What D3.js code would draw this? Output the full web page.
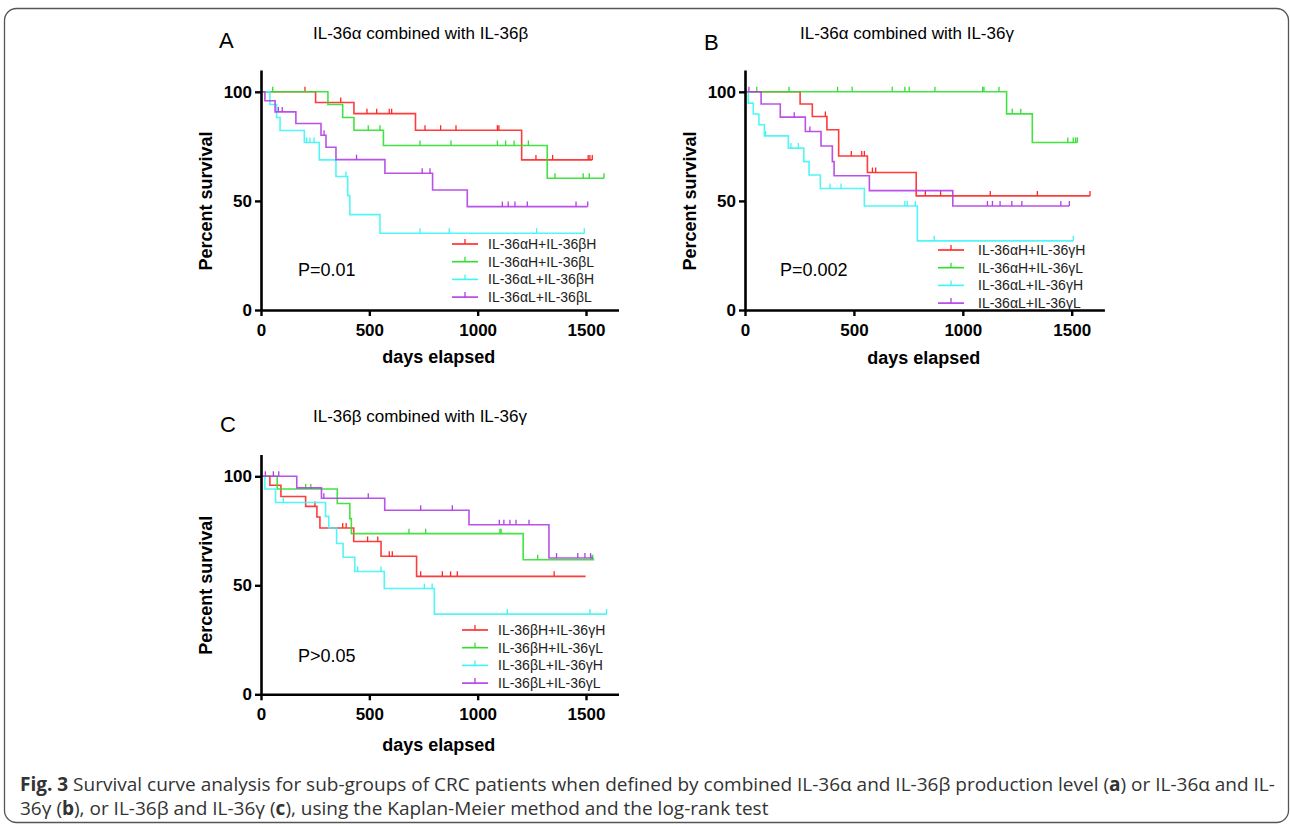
<!DOCTYPE html>
<html>
<head>
<meta charset="utf-8">
<script src="https://cdn.jsdelivr.net/npm/d3@7"></script>
<style>
  body { margin: 0; background: #fff; }
  svg text { font-family: "Liberation Sans", Arial, sans-serif; }
</style>
</head>
<body>
<svg id="chart" width="1290" height="827"></svg>
<script>
// ---- data: [day, percent] at each drop, censored days, last day ----
var colors = ["#ff2626", "#2fe02f", "#3ff5f5", "#b23ee6"];

var aLabels = ["IL-36\u03b1H+IL-36\u03b2H", "IL-36\u03b1H+IL-36\u03b2L", "IL-36\u03b1L+IL-36\u03b2H", "IL-36\u03b1L+IL-36\u03b2L"];
var aHHsteps = [[252, 95.1], [429, 90.0], [713, 82.4], [1203, 68.8]];
var aHHcens = [203, 368, 489, 534, 592, 603, 757, 829, 900, 1091, 1098, 1269, 1346, 1510, 1518, 1529];
var aHLsteps = [[309, 94.2], [377, 88.2], [429, 82.4], [565, 75.4], [1321, 60.4]];
var aHLcens = [54, 495, 549, 734, 877, 1091, 1129, 1168, 1234, 1357, 1487, 1515, 1583];
var aLHsteps = [[41, 94.2], [72, 88.2], [88, 82.3], [200, 76.8], [269, 68.8], [346, 61.2], [400, 52.4], [410, 43.7], [549, 35.2]];
var aLHcens = [211, 226, 245, 392, 734, 869, 1272, 1492];
var aLLsteps = [[18, 95.9], [65, 90.8], [161, 85.5], [277, 80.1], [300, 74.6], [346, 68.9], [572, 62.7], [792, 55.0], [952, 47.4]];
var aLLcens = [80, 98, 291, 441, 744, 780, 1114, 1141, 1172, 1229, 1454, 1508];
var aEnds = [1529, 1583, 1492, 1508];

var bLabels = ["IL-36\u03b1H+IL-36\u03b3H", "IL-36\u03b1H+IL-36\u03b3L", "IL-36\u03b1L+IL-36\u03b3H", "IL-36\u03b1L+IL-36\u03b3L"];
var bHHsteps = [[253, 94.4], [309, 88.7], [376, 82.6], [430, 70.6], [562, 63.0], [786, 52.3]];
var bHHcens = [369, 488, 536, 548, 585, 600, 828, 898, 1126, 1342, 1584];
var bHLsteps = [[1201, 89.9], [1319, 76.8]];
var bHLcens = [54, 202, 425, 492, 676, 734, 754, 872, 1091, 1097, 1166, 1227, 1266, 1482, 1507, 1518, 1526];
var bLHsteps = [[15, 94.8], [38, 89.8], [64, 84.9], [89, 79.8], [199, 74.2], [270, 68.0], [294, 61.9], [346, 55.7], [548, 47.7], [791, 31.7]];
var bLHcens = [94, 211, 245, 390, 441, 734, 745, 782, 869, 1507];
var bLLsteps = [[74, 94.4], [162, 88.4], [277, 81.8], [349, 75.2], [401, 68.0], [409, 61.5], [571, 54.7], [954, 47.7]];
var bLLcens = [18, 226, 298, 1113, 1136, 1171, 1225, 1271, 1450, 1489];
var bEnds = [1584, 1526, 1507, 1489];

var cLabels = ["IL-36\u03b2H+IL-36\u03b3H", "IL-36\u03b2H+IL-36\u03b3L", "IL-36\u03b2L+IL-36\u03b3H", "IL-36\u03b2L+IL-36\u03b3L"];
var cHHsteps = [[41, 95.9], [92, 90.7], [206, 86.2], [258, 81.3], [272, 76.3], [428, 70.1], [554, 63.3], [718, 54.1]];
var cHHcens = [249, 377, 393, 492, 539, 592, 606, 737, 837, 875, 906, 1353];
var cHLsteps = [[75, 94.2], [352, 87.5], [410, 80.6], [417, 73.7], [1210, 61.7]];
var cHLcens = [206, 230, 683, 760, 1103, 1108, 1277, 1523, 1531];
var cLHsteps = [[18, 94.2], [67, 88.0], [298, 81.6], [313, 76.3], [349, 69.2], [379, 62.9], [433, 56.3], [569, 48.5], [800, 36.8]];
var cLHcens = [103, 446, 554, 754, 790, 1137, 1518, 1595];
var cLLsteps = [[165, 94.7], [279, 89.9], [571, 84.4], [960, 77.8], [1329, 62.5]];
var cLLcens = [20, 57, 82, 290, 495, 737, 883, 1100, 1121, 1149, 1177, 1237, 1364, 1462, 1495, 1521];
var cEnds = [1498, 1538, 1595, 1534];

var xTicks = [0, 500, 1000, 1500];
var yTicks = [0, 50, 100];

var svg = d3.select("#chart");

// outer frame
svg.append("rect")
  .attr("x", 4.5).attr("y", 8.5)
  .attr("width", 1284).attr("height", 814)
  .attr("rx", 12).attr("ry", 12)
  .attr("fill", "none").attr("stroke", "#555").attr("stroke-width", 1.3);

var panels = [
  { letter: "A", title: "IL-36\u03b1 combined with IL-36\u03b2", labels: aLabels, p: "P=0.01",
    steps: [aHHsteps, aHLsteps, aLHsteps, aLLsteps], cens: [aHHcens, aHLcens, aLHcens, aLLcens], ends: aEnds,
    x0: 261, x1: 618.5, y0: 310, y1: 70, lx: 452, lty: 244, tx: 488,
    px: 298, py: 276, letX: 219, letY: 48, titleX: 313, titleY: 39, ylabX: 212, xlabY: 363 },
  { letter: "B", title: "IL-36\u03b1 combined with IL-36\u03b3", labels: bLabels, p: "P=0.002",
    steps: [bHHsteps, bHLsteps, bLHsteps, bLLsteps], cens: [bHHcens, bHLcens, bLHcens, bLLcens], ends: bEnds,
    x0: 745, x1: 1104.4, y0: 310, y1: 70, lx: 938, lty: 250, tx: 978,
    px: 780, py: 276, letX: 704, letY: 50, titleX: 800, titleY: 39, ylabX: 696, xlabY: 364 },
  { letter: "C", title: "IL-36\u03b2 combined with IL-36\u03b3", labels: cLabels, p: "P>0.05",
    steps: [cHHsteps, cHLsteps, cLHsteps, cLLsteps], cens: [cHHcens, cHLcens, cLHcens, cLLcens], ends: cEnds,
    x0: 261, x1: 618.5, y0: 694.3, y1: 454.5, lx: 462, lty: 630, tx: 498,
    px: 298, py: 662, letX: 220, letY: 432, titleX: 313, titleY: 422, ylabX: 212, xlabY: 751 }
];

panels.forEach(function(pn) {
  var x = d3.scaleLinear().domain([0, 1650]).range([pn.x0, pn.x1]);
  var y = d3.scaleLinear().domain([0, 110]).range([pn.y0, pn.y1]);
  var g = svg.append("g");

  // survival curves
  var line = d3.line().x(function(d) { return x(d[0]); }).y(function(d) { return y(d[1]); })
    .curve(d3.curveStepAfter);
  pn.steps.forEach(function(st, i) {
    var pts = [[0, 100]].concat(st);
    pts.push([pn.ends[i], st[st.length - 1][1]]);
    g.append("path").attr("d", line(pts))
      .attr("fill", "none").attr("stroke", colors[i]).attr("stroke-width", 1.6).attr("opacity", 0.9);
    // censor ticks
    var survAt = function(t) {
      var v = 100;
      st.forEach(function(s) { if (s[0] <= t) v = s[1]; });
      return v;
    };
    g.selectAll(null).data(pn.cens[i]).enter().append("line")
      .attr("x1", function(d) { return x(d); }).attr("x2", function(d) { return x(d); })
      .attr("y1", function(d) { return y(survAt(d)); })
      .attr("y2", function(d) { return y(survAt(d)) - 5; })
      .attr("stroke", colors[i]).attr("stroke-width", 1.3);
  });

  // axes
  var xAxis = g.append("g").attr("transform", "translate(0," + pn.y0 + ")")
    .call(d3.axisBottom(x).tickValues(xTicks).tickFormat(d3.format("d"))
      .tickSize(6).tickPadding(8).tickSizeOuter(0));
  var yAxis = g.append("g").attr("transform", "translate(" + pn.x0 + ",0)")
    .call(d3.axisLeft(y).tickValues(yTicks).tickSize(6).tickPadding(3).tickSizeOuter(0));
  [xAxis, yAxis].forEach(function(ax) {
    ax.select(".domain").attr("stroke", "#000").attr("stroke-width", 2.6);
    ax.selectAll(".tick line").attr("stroke", "#000").attr("stroke-width", 2.4);
    ax.selectAll(".tick text").attr("fill", "#000").style("font-size", "17px").style("font-weight", "bold")
      .style("font-family", "'Liberation Sans', Arial, sans-serif");
  });

  // axis titles
  g.append("text").attr("x", (pn.x0 + pn.x1) / 2 - 1).attr("y", pn.xlabY)
    .attr("text-anchor", "middle").style("font-size", "18px").style("font-weight", "bold")
    .text("days elapsed");
  g.append("text").attr("transform", "translate(" + pn.ylabX + "," + (pn.y0 - 109) + ") rotate(-90)")
    .attr("text-anchor", "middle").style("font-size", "18px").style("font-weight", "bold")
    .text("Percent survival");

  // panel letter + title
  g.append("text").attr("x", pn.letX).attr("y", pn.letY).style("font-size", "22px").text(pn.letter);
  g.append("text").attr("x", pn.titleX).attr("y", pn.titleY).style("font-size", "17px").text(pn.title);

  // p value
  g.append("text").attr("x", pn.px).attr("y", pn.py).style("font-size", "18px").text(pn.p);

  // legend
  pn.labels.forEach(function(lb, i) {
    var ly = pn.lty + i * 17.7;
    g.append("line").attr("x1", pn.lx).attr("x2", pn.lx + 26).attr("y1", ly).attr("y2", ly)
      .attr("stroke", colors[i]).attr("stroke-width", 1.6);
    g.append("line").attr("x1", pn.lx + 13).attr("x2", pn.lx + 13).attr("y1", ly).attr("y2", ly - 5)
      .attr("stroke", colors[i]).attr("stroke-width", 1.3);
    g.append("text").attr("x", pn.tx).attr("y", ly + 5).style("font-size", "14px").attr("fill", "#222").text(lb);
  });
});

// caption
var capFont = "'Open Sans', 'Noto Sans', sans-serif";
var cap = svg.append("text").attr("x", 20).attr("y", 791)
  .style("font-family", capFont).style("font-size", "19px").attr("fill", "#333");
cap.append("tspan").style("font-weight", "bold").text("Fig. 3");
cap.append("tspan").text(" Survival curve analysis for sub-groups of CRC patients when defined by combined IL-36\u03b1 and IL-36\u03b2 production level (");
cap.append("tspan").style("font-weight", "bold").text("a");
cap.append("tspan").text(") or IL-36\u03b1 and IL-");
var cap2 = svg.append("text").attr("x", 20).attr("y", 815)
  .style("font-family", capFont).style("font-size", "19px").attr("fill", "#333");
cap2.append("tspan").text("36\u03b3 (");
cap2.append("tspan").style("font-weight", "bold").text("b");
cap2.append("tspan").text("), or IL-36\u03b2 and IL-36\u03b3 (");
cap2.append("tspan").style("font-weight", "bold").text("c");
cap2.append("tspan").text("), using the Kaplan-Meier method and the log-rank test");
</script>
</body>
</html>
